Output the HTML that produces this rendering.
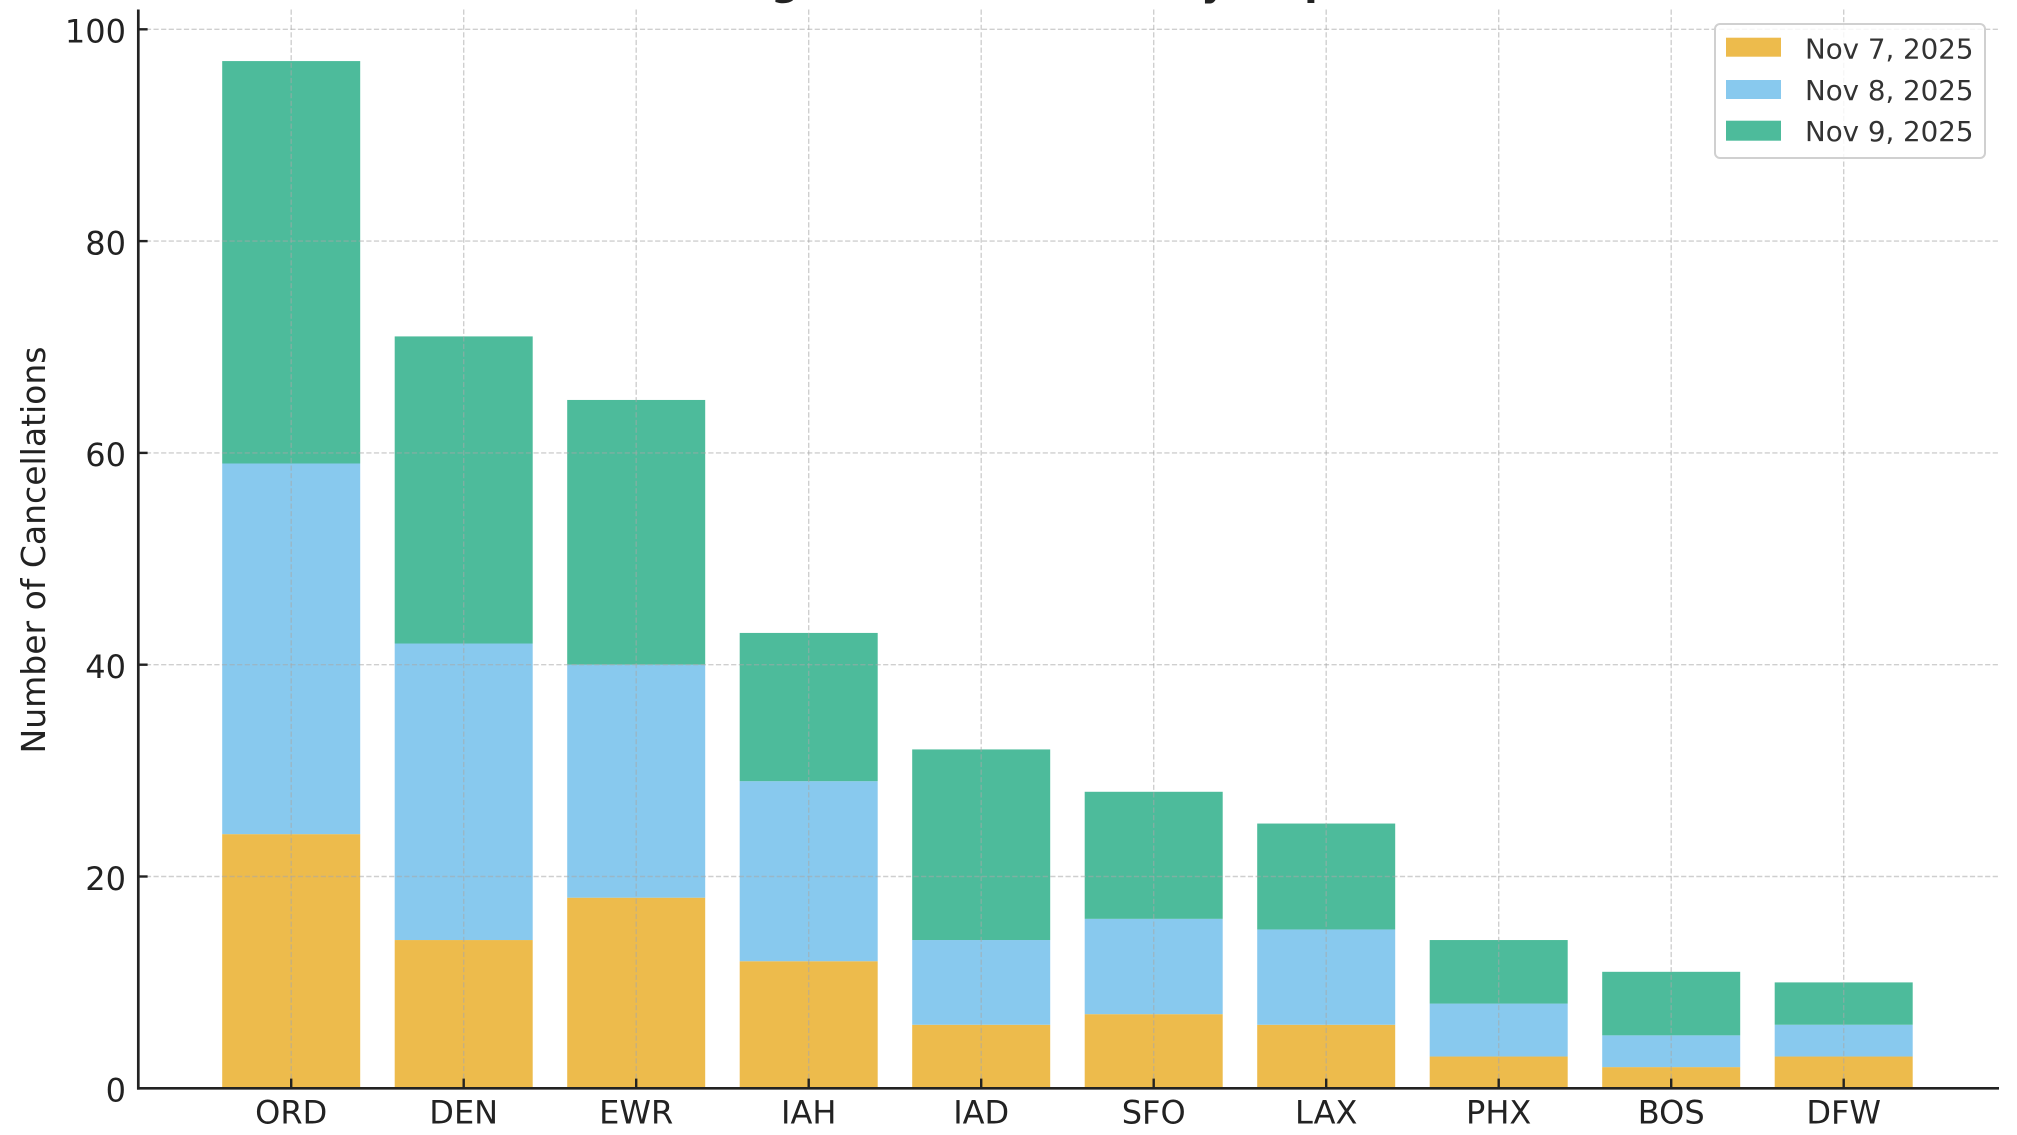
<!DOCTYPE html>
<html>
<head>
<meta charset="utf-8">
<style>
  html,body{margin:0;padding:0;background:#fff;}
  svg{display:block;}
  text{font-family:"DejaVu Sans","Liberation Sans",sans-serif;}
</style>
</head>
<body>
<svg width="2017" height="1135" viewBox="0 0 2017 1135" xmlns="http://www.w3.org/2000/svg">
  <rect x="0" y="0" width="2017" height="1135" fill="#ffffff"/>

  <!-- Title (mostly clipped at top) -->
  <text x="717" y="-4.8" font-size="39.5" font-weight="bold" fill="#222">Flight Cancellations by Airport</text>

  <!-- Bars -->
  <g transform="translate(0 1088.3) scale(1 -10.59)">
    <g fill="#EDBB4C">
      <rect x="222.2" y="0" width="138" height="24"/>
      <rect x="394.7" y="0" width="138" height="14"/>
      <rect x="567.2" y="0" width="138" height="18"/>
      <rect x="739.7" y="0" width="138" height="12"/>
      <rect x="912.2" y="0" width="138" height="6"/>
      <rect x="1084.7" y="0" width="138" height="7"/>
      <rect x="1257.2" y="0" width="138" height="6"/>
      <rect x="1429.7" y="0" width="138" height="3"/>
      <rect x="1602.2" y="0" width="138" height="2"/>
      <rect x="1774.7" y="0" width="138" height="3"/>
    </g>
    <g fill="#88C9EE">
      <rect x="222.2" y="24" width="138" height="35"/>
      <rect x="394.7" y="14" width="138" height="28"/>
      <rect x="567.2" y="18" width="138" height="22"/>
      <rect x="739.7" y="12" width="138" height="17"/>
      <rect x="912.2" y="6" width="138" height="8"/>
      <rect x="1084.7" y="7" width="138" height="9"/>
      <rect x="1257.2" y="6" width="138" height="9"/>
      <rect x="1429.7" y="3" width="138" height="5"/>
      <rect x="1602.2" y="2" width="138" height="3"/>
      <rect x="1774.7" y="3" width="138" height="3"/>
    </g>
    <g fill="#4DBB9B">
      <rect x="222.2" y="59" width="138" height="38"/>
      <rect x="394.7" y="42" width="138" height="29"/>
      <rect x="567.2" y="40" width="138" height="25"/>
      <rect x="739.7" y="29" width="138" height="14"/>
      <rect x="912.2" y="14" width="138" height="18"/>
      <rect x="1084.7" y="16" width="138" height="12"/>
      <rect x="1257.2" y="15" width="138" height="10"/>
      <rect x="1429.7" y="8" width="138" height="6"/>
      <rect x="1602.2" y="5" width="138" height="6"/>
      <rect x="1774.7" y="6" width="138" height="4"/>
    </g>
  </g>

  <!-- Grid -->
  <g stroke="#a8a8a8" stroke-opacity="0.55" stroke-width="1.4" stroke-dasharray="5.2 2.4" fill="none">
    <line x1="138.3" y1="876.5" x2="1999" y2="876.5"/>
    <line x1="138.3" y1="664.7" x2="1999" y2="664.7"/>
    <line x1="138.3" y1="452.9" x2="1999" y2="452.9"/>
    <line x1="138.3" y1="241.1" x2="1999" y2="241.1"/>
    <line x1="138.3" y1="29.3" x2="1999" y2="29.3"/>
    <line x1="291.2" y1="9.5" x2="291.2" y2="1088.3"/>
    <line x1="463.7" y1="9.5" x2="463.7" y2="1088.3"/>
    <line x1="636.2" y1="9.5" x2="636.2" y2="1088.3"/>
    <line x1="808.7" y1="9.5" x2="808.7" y2="1088.3"/>
    <line x1="981.2" y1="9.5" x2="981.2" y2="1088.3"/>
    <line x1="1153.7" y1="9.5" x2="1153.7" y2="1088.3"/>
    <line x1="1326.2" y1="9.5" x2="1326.2" y2="1088.3"/>
    <line x1="1498.7" y1="9.5" x2="1498.7" y2="1088.3"/>
    <line x1="1671.2" y1="9.5" x2="1671.2" y2="1088.3"/>
    <line x1="1843.7" y1="9.5" x2="1843.7" y2="1088.3"/>
  </g>

  <!-- Spines -->
  <g stroke="#222" stroke-width="2.7" fill="none">
    <line x1="138.3" y1="9.5" x2="138.3" y2="1089.6"/>
    <line x1="137" y1="1088.3" x2="1999" y2="1088.3"/>
  </g>

  <!-- Ticks -->
  <g stroke="#222" stroke-width="2.4">
    <line x1="138.3" y1="1088.3" x2="147.6" y2="1088.3"/>
    <line x1="138.3" y1="876.5" x2="147.6" y2="876.5"/>
    <line x1="138.3" y1="664.7" x2="147.6" y2="664.7"/>
    <line x1="138.3" y1="452.9" x2="147.6" y2="452.9"/>
    <line x1="138.3" y1="241.1" x2="147.6" y2="241.1"/>
    <line x1="138.3" y1="29.3" x2="147.6" y2="29.3"/>
    <line x1="291.2" y1="1088.3" x2="291.2" y2="1078.6"/>
    <line x1="463.7" y1="1088.3" x2="463.7" y2="1078.6"/>
    <line x1="636.2" y1="1088.3" x2="636.2" y2="1078.6"/>
    <line x1="808.7" y1="1088.3" x2="808.7" y2="1078.6"/>
    <line x1="981.2" y1="1088.3" x2="981.2" y2="1078.6"/>
    <line x1="1153.7" y1="1088.3" x2="1153.7" y2="1078.6"/>
    <line x1="1326.2" y1="1088.3" x2="1326.2" y2="1078.6"/>
    <line x1="1498.7" y1="1088.3" x2="1498.7" y2="1078.6"/>
    <line x1="1671.2" y1="1088.3" x2="1671.2" y2="1078.6"/>
    <line x1="1843.7" y1="1088.3" x2="1843.7" y2="1078.6"/>
  </g>

  <!-- Y tick labels -->
  <g font-size="32" fill="#222" text-anchor="end">
    <text x="126" y="1101.6">0</text>
    <text x="126" y="889.8">20</text>
    <text x="126" y="678.0">40</text>
    <text x="126" y="466.2">60</text>
    <text x="126" y="254.4">80</text>
    <text x="126" y="42.6">100</text>
  </g>

  <!-- X tick labels -->
  <g font-size="32" fill="#222" text-anchor="middle">
    <text x="291.2" y="1123.3">ORD</text>
    <text x="463.7" y="1123.3">DEN</text>
    <text x="636.2" y="1123.3">EWR</text>
    <text x="808.7" y="1123.3">IAH</text>
    <text x="981.2" y="1123.3">IAD</text>
    <text x="1153.7" y="1123.3">SFO</text>
    <text x="1326.2" y="1123.3">LAX</text>
    <text x="1498.7" y="1123.3">PHX</text>
    <text x="1671.2" y="1123.3">BOS</text>
    <text x="1843.7" y="1123.3">DFW</text>
  </g>

  <!-- Y axis label -->
  <text transform="translate(45 550) rotate(-90)" font-size="33" fill="#222" text-anchor="middle">Number of Cancellations</text>

  <!-- Legend -->
  <rect x="1715" y="24" width="270" height="134" rx="5" ry="5" fill="#ffffff" fill-opacity="0.82" stroke="#d0d0d0" stroke-width="2"/>
  <rect x="1726" y="37.7" width="55" height="19" fill="#EDBB4C"/>
  <rect x="1726" y="80" width="55" height="19" fill="#88C9EE"/>
  <rect x="1726" y="120.7" width="55" height="20" fill="#4DBB9B"/>
  <g font-size="27.7" fill="#333">
    <text x="1805" y="58.3">Nov 7, 2025</text>
    <text x="1805" y="99.8">Nov 8, 2025</text>
    <text x="1805" y="141">Nov 9, 2025</text>
  </g>
</svg>
</body>
</html>
